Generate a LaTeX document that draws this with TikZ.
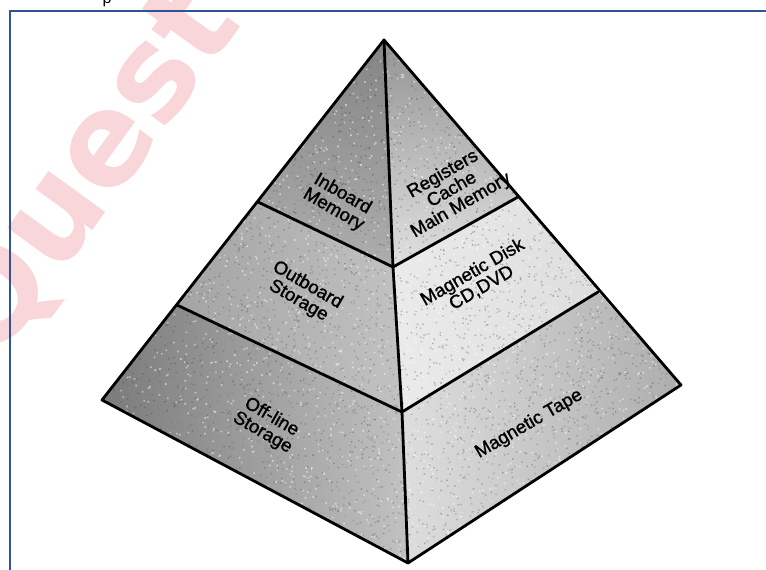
\documentclass[tikz,border=0pt]{standalone}
\usepackage{fontspec}
\setmainfont{Liberation Sans}
\newfontfamily\labelfont[FakeBold=1.2]{Liberation Sans}
\newfontfamily\markfont{DejaVu Sans}
\begin{document}
\begin{tikzpicture}[x=1pt,y=-1pt,
  edge/.style={line width=2.8pt, line join=round, line cap=round},
  facelabel/.style={font=\labelfont\fontsize{18.5}{18}\selectfont, align=center, inner sep=0pt},
  frameline/.style={draw=framecol, line width=2.2pt},
  watermark/.style={text=markpink, font=\markfont\fontsize{128}{128}\selectfont\bfseries, inner sep=0pt}]
\definecolor{framecol}{RGB}{47,84,150}
\definecolor{markpink}{RGB}{249,214,217}
\useasboundingbox (0,0) rectangle (766,570);

% faint watermark lettering, cut at the page edge
\begin{scope}
  \clip (0,0) rectangle (766,570);
  \node[watermark, anchor=base west, rotate=54] (wm) at (-6,366) {Quest};
  \node[anchor=base, inner sep=0pt, font=\fontsize{16}{16}\selectfont] (cap) at (107,3) {p};
\end{scope}

% page frame
\draw[frameline] (10,575) -- (10,11) -- (770,11);

% pyramid corners and band corners
\coordinate (A)  at (384,40);
\coordinate (L1) at (258,202);
\coordinate (L2) at (177,305);
\coordinate (LC) at (102,400);
\coordinate (M1) at (393,267);
\coordinate (M2) at (402,412);
\coordinate (B)  at (408,563);
\coordinate (R1) at (518,197);
\coordinate (R2) at (598,292);
\coordinate (RC) at (681,385);

% left face bands
\shade[top color=black!48, bottom color=black!32] (A) -- (L1) -- (M1) -- cycle;
\shade[left color=black!36, right color=black!24] (L1) -- (L2) -- (M2) -- (M1) -- cycle;
\shade[left color=black!52, right color=black!24] (L2) -- (LC) -- (B) -- (M2) -- cycle;
% right face bands
\shade[top color=black!42, bottom color=black!12] (A) -- (M1) -- (R1) -- cycle;
\shade[left color=black!8, right color=black!13] (M1) -- (M2) -- (R2) -- (R1) -- cycle;
\shade[left color=black!13, right color=black!32] (M2) -- (B) -- (RC) -- (R2) -- cycle;

% printed grain: one path of tiny squares per tone
\begin{scope}
  \clip (A) -- (LC) -- (B) -- (RC) -- cycle;
  \pgfmathsetseed{11}
  \fill[black!80, fill opacity=0.35]
    \foreach \i in {1,...,2600} { ({100+585*rnd},{40+525*rnd}) rectangle ++(1.3,1.3) };
  \fill[black!55, fill opacity=0.35]
    \foreach \i in {1,...,2600} { ({100+585*rnd},{40+525*rnd}) rectangle ++(1.7,1.5) };
  \fill[white, fill opacity=0.5]
    \foreach \i in {1,...,2600} { ({100+585*rnd},{40+525*rnd}) rectangle ++(1.6,1.6) };
\end{scope}

% outline, ridge and band borders
\draw[edge] (A) -- (LC) -- (B) -- (RC) -- cycle;
\draw[edge] (A) -- (M1) -- (M2) -- (B);
\draw[edge] (L1) -- (M1) -- (R1);
\draw[edge] (L2) -- (M2) -- (R2);

% band labels
\node[facelabel, rotate=-30] (inb) at (338,202) {Inboard\\Memory};
\node[facelabel, rotate=30]  (reg) at (452,190) {Registers\\Cache\\Main Memory};
\node[facelabel, rotate=-30] (outb) at (303,293) {Outboard\\Storage};
\node[facelabel, rotate=30]  (disk) at (477,280) {Magnetic Disk\\CD,DVD};
\node[facelabel, rotate=-30] (offl) at (267,425) {Off-line\\Storage};
\node[facelabel, rotate=30]  (tape) at (529,424) {Magnetic Tape};
\end{tikzpicture}
\end{document}
